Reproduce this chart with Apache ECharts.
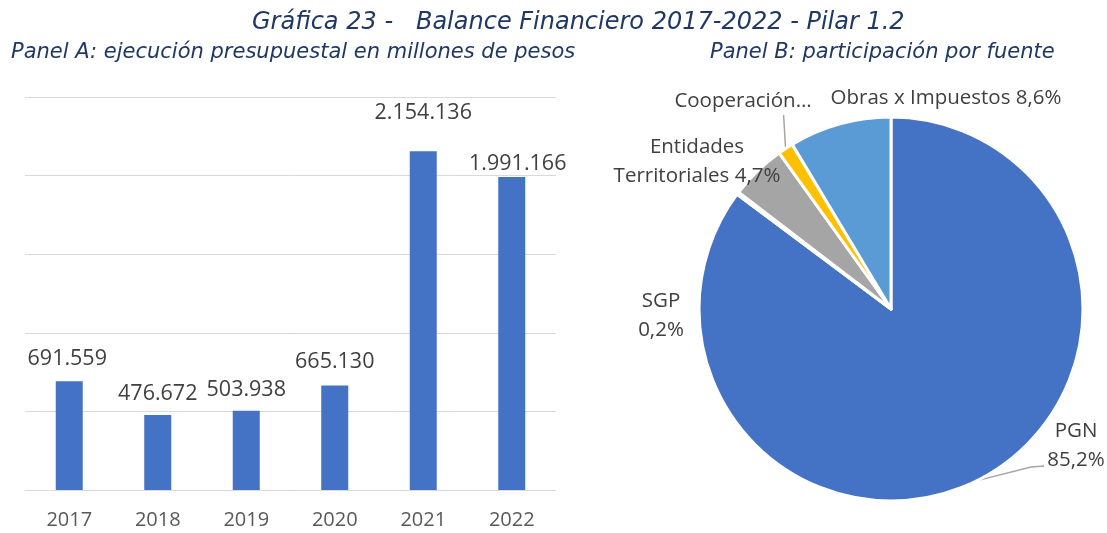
<!DOCTYPE html>
<html>
<head>
<meta charset="utf-8">
<script src="https://cdn.jsdelivr.net/npm/echarts@6/dist/echarts.min.js"></script>
<style>
  html, body { margin: 0; padding: 0; background: #fff; }
  #chart { width: 1107px; height: 533px; }
</style>
</head>
<body>
<div id="chart"></div>
<script>
// Panel A: ejecución presupuestal (millones de pesos)
const years = ["2017", "2018", "2019", "2020", "2021", "2022"];
const ejecucion = [691559, 476672, 503938, 665130, 2154136, 1991166];

// Panel B: participación por fuente (%)
const fuentes = ["PGN", "SGP", "Entidades Territoriales", "Cooperación…", "Obras x Impuestos"];
const participacion = [85.2, 0.2, 4.7, 1.3, 8.6];

const colors = ["#4472C4", "#ED7D31", "#A5A5A5", "#FFC000", "#5B9BD5"];
const txt = "#404040";
const font = "Open Sans";

// número con separador de miles "."
function miles(v) {
  return String(v).replace(/\B(?=(\d{3})+(?!\d))/g, ".");
}
function pct(v) {
  return v.toFixed(1).replace(".", ",") + "%";
}

// posición de las etiquetas (como en el original, puestas a mano)
const barLabelOffset = [[-2, -6], [0, -5], [0, -5], [0, -8], [0, -22], [6, 3]];
const pieLabelPos = [
  { x: 1076, y: 446 },
  { x: 661, y: 316 },
  { x: 697, y: 162 },
  { x: 743, y: 101 },
  { x: 946, y: 98 }
];
const pieLabelText = [
  "PGN\n" + pct(participacion[0]),
  "SGP\n" + pct(participacion[1]),
  "Entidades\nTerritoriales " + pct(participacion[2]),
  fuentes[3],
  fuentes[4] + " " + pct(participacion[4])
];

const chart = echarts.init(document.getElementById("chart"));

const titleStyle = { fontFamily: "DejaVu Sans", fontStyle: "italic", fontWeight: "normal", color: "#203864" };

const option = {
  backgroundColor: "#fff",
  animation: false,
  title: [
    {
      text: "Gráfica 23 -   Balance Financiero 2017-2022 - Pilar 1.2",
      left: 247, top: 6,
      textStyle: Object.assign({ fontSize: 24 }, titleStyle)
    },
    {
      text: "Panel A: ejecución presupuestal en millones de pesos",
      left: 6, top: 37,
      textStyle: Object.assign({ fontSize: 21 }, titleStyle)
    },
    {
      text: "Panel B: participación por fuente",
      left: 705, top: 37,
      textStyle: Object.assign({ fontSize: 21 }, titleStyle)
    }
  ],
  grid: { left: 25, top: 97, width: 531, height: 393 },
  xAxis: {
    type: "category",
    data: years,
    axisLine: { lineStyle: { color: "#D9D9D9", width: 1 } },
    axisTick: { show: false },
    axisLabel: { color: "#595959", fontFamily: font, fontSize: 20, margin: 20 }
  },
  yAxis: {
    type: "value",
    min: 0,
    max: 2500000,
    interval: 500000,
    axisLabel: { show: false },
    axisLine: { show: false },
    axisTick: { show: false },
    splitLine: { lineStyle: { color: "#D9D9D9", width: 1 } }
  },
  series: [
    {
      type: "bar",
      data: ejecucion.map((v, i) => ({
        value: v,
        label: { offset: barLabelOffset[i] }
      })),
      barWidth: 27,
      itemStyle: { color: colors[0] },
      label: {
        show: true,
        position: "top",
        distance: 5,
        color: txt,
        fontFamily: font,
        fontSize: 21.5,
        formatter: (p) => miles(p.value)
      }
    },
    {
      type: "pie",
      center: [891, 309],
      radius: 192,
      startAngle: 90,
      clockwise: true,
      data: participacion.map((v, i) => ({
        name: fuentes[i],
        value: v,
        itemStyle: { color: colors[i] },
        labelLine: { show: i === 0 || i === 3 }
      })),
      itemStyle: { borderColor: "#fff", borderWidth: 3 },
      label: {
        show: true,
        position: "outside",
        color: txt,
        fontFamily: font,
        fontSize: 20.5,
        lineHeight: 29,
        formatter: (p) => pieLabelText[p.dataIndex]
      },
      labelLine: {
        length: 12,
        length2: 8,
        lineStyle: { color: "#A6A6A6", width: 1.5 }
      },
      labelLayout: (p) => {
        const pos = pieLabelPos[p.dataIndex];
        const out = { x: pos.x, y: pos.y, align: "center", verticalAlign: "middle", hideOverlap: false };
        const pts = p.labelLinePoints;
        if (pts && pts.length) {
          const s = pts[0]; // punto en el borde del sector
          if (p.dataIndex === 3) {
            out.labelLinePoints = [s, [s[0] - 1, (s[1] + pos.y + 14) / 2], [s[0] - 2, pos.y + 14]];
          } else if (p.dataIndex === 0) {
            out.labelLinePoints = [s, [pos.x - 45, pos.y + 21], [pos.x - 32, pos.y + 20]];
          }
        }
        return out;
      }
    }
  ]
};

chart.setOption(option);
</script>
</body>
</html>
